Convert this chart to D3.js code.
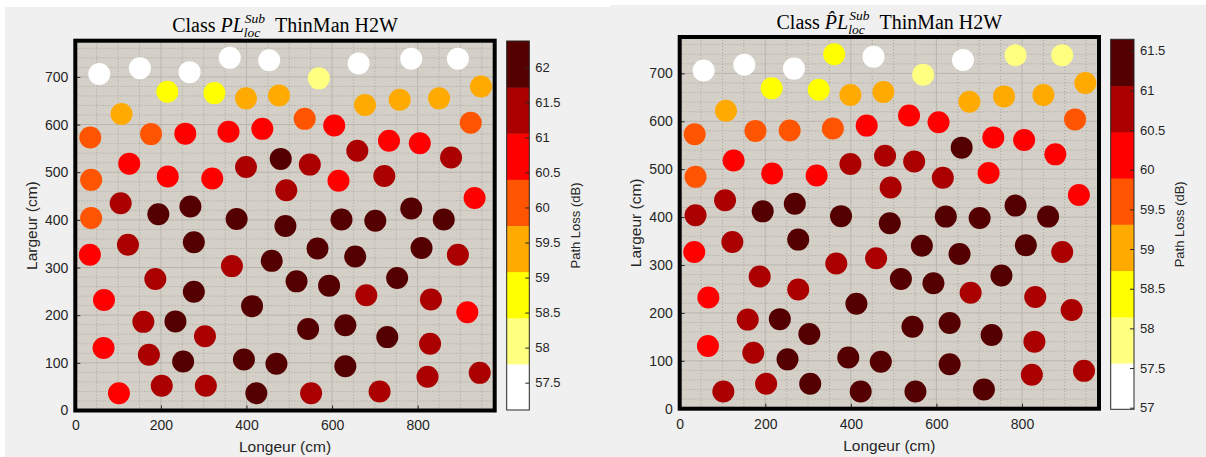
<!DOCTYPE html>
<html><head><meta charset="utf-8">
<script src="https://cdn.jsdelivr.net/npm/d3@7"></script>
<style>
html,body{margin:0;padding:0;background:#ffffff;}
svg{display:block;}
</style></head><body>
<svg id="chart" width="1206" height="457"></svg>
<script>
// ---------------- data ----------------
const xPositions = [56,151,267,361,453,569,662,785,894,215,325,399,476,677,758,850,948,108,536,924,
  35,177,257,358,437,605,733,805,659,878,480,548,399,126,216,320,615,722,37,493,
  933,106,194,269,37,377,491,622,701,785,861,34,123,277,366,459,566,654,809,894,
  187,277,517,593,752,680,831,67,413,916,159,234,303,544,631,729,829,66,172,252,
  394,470,631,823,945,102,202,305,423,551,711];
const yPositions = [706,718,710,740,735,697,728,738,738,669,666,655,661,641,652,655,680,622,612,604,
  573,580,581,585,591,598,566,561,545,531,528,516,511,518,491,487,482,492,484,462,
  446,435,412,428,404,402,387,401,398,424,401,327,348,353,303,314,340,323,341,327,
  276,249,271,262,278,242,233,232,219,206,186,187,156,171,179,154,140,131,117,103,
  107,98,93,71,79,36,52,52,36,36,40];
// Path loss, class PL_loc^Sub (dB)
const plValues = [57.35,57.42,57.30,57.55,57.48,58.05,57.40,57.11,57.20,58.70,58.80,59.40,59.35,59.55,59.45,59.30,59.50,59.60,60.10,60.20,
  59.95,60.05,60.70,60.80,60.65,60.90,60.75,60.55,61.35,61.50,61.85,61.45,61.30,60.85,60.60,60.70,60.95,61.25,60.15,61.40,
  60.50,61.55,62.10,61.95,60.25,62.00,61.90,62.05,62.15,61.80,62.00,60.80,61.60,62.20,61.50,62.05,62.25,62.10,61.95,61.45,
  61.55,62.00,62.30,62.37,62.15,61.40,61.35,60.75,62.20,60.85,61.50,62.05,61.65,62.25,62.10,62.00,61.30,60.70,61.45,62.15,
  62.30,62.20,61.95,61.40,61.25,60.90,61.60,61.55,62.10,61.60,61.35];
// Path loss, class PL^_loc^Sub (dB)
const plHatValues = [57.20,57.30,56.99,58.40,57.35,57.90,57.25,57.80,57.70,58.50,58.35,59.05,59.00,59.15,59.10,58.95,59.20,59.10,60.10,59.60,
  59.50,59.70,59.75,59.80,60.20,60.30,60.15,60.05,61.15,60.35,60.90,60.85,60.70,60.25,60.10,60.20,60.60,60.40,59.65,60.80,
  60.00,60.95,61.40,61.30,60.55,61.35,61.25,61.45,61.50,61.20,61.30,60.25,60.95,61.55,60.85,61.00,61.50,61.40,61.30,60.90,
  61.00,61.05,61.55,61.63,61.45,60.75,60.70,60.15,61.50,60.60,60.85,61.40,61.10,61.55,61.45,61.35,60.70,60.10,60.80,61.45,
  61.60,61.50,61.30,60.75,60.65,60.55,60.95,61.15,61.40,61.12,61.08];

const xTicks = [0,200,400,600,800];
const yTicks = [0,100,200,300,400,500,600,700];
const xMinorTicks = [50,100,150,250,300,350,450,500,550,650,700,750,850,900,950];
const yMinorTicks = [20,40,60,80,120,140,160,180,220,240,260,280,320,340,360,380,420,440,460,480,520,540,560,580,620,640,660,680,720,740,760];
const leftColorTicks = [57.5,58,58.5,59,59.5,60,60.5,61,61.5,62];
const rightColorTicks = [57,57.5,58,58.5,59,59.5,60,60.5,61,61.5];
const leftCLim = [57.11, 62.375];
const rightCLim = [56.98, 61.644];
const hotColors = ["#ffffff","#ffff80","#ffff00","#ffaa00","#ff5500","#ff0000","#aa0000","#550000"];
const xDomain = [0, 980];
const yDomain = [0, 776];

// ---------------- drawing ----------------
const svg = d3.select("#chart");
const sansFont = "'Liberation Sans', Arial, Helvetica, sans-serif";
const serifFont = "'Liberation Serif', 'Times New Roman', serif";
const textColor = "#262626";

// figure backgrounds
svg.append("rect").attr("x",5).attr("y",7).attr("width",605).attr("height",450).attr("fill","#f0f0f0");
svg.append("rect").attr("x",610).attr("y",5).attr("width",596).attr("height",452).attr("fill","#f0f0f0");

const panels = [
  {values: plValues, clim: leftCLim, cticks: leftColorTicks, hat: false,
   plot: {x0:75.3, x1:494.7, y0:40.7, y1:410.5},
   cbar: {x0:506.7, x1:529.3, y0:41, y1:410},
   titleY: 32, xLabelY: 451.7, yLabelX: 32, cLabelX: 575},
  {values: plHatValues, clim: rightCLim, cticks: rightColorTicks, hat: true,
   plot: {x0:679.7, x1:1099, y0:37, y1:408.7},
   cbar: {x0:1110.7, x1:1134, y0:39.3, y1:409.3},
   titleY: 29, xLabelY: 450.7, yLabelX: 636, cLabelX: 1179}
];

function measure(txt, size, italic) {
  const t = svg.append("text").style("font-family",serifFont).style("font-size",size+"px")
    .style("font-style", italic ? "italic" : "normal").text(txt);
  const w = t.node().getComputedTextLength();
  t.remove();
  return w;
}

panels.forEach((p, pi) => {
  const P = p.plot;
  const x = d3.scaleLinear().domain(xDomain).range([P.x0, P.x1]);
  const y = d3.scaleLinear().domain(yDomain).range([P.y1, P.y0]);
  const color = d3.scaleQuantize().domain(p.clim).range(hotColors);
  const g = svg.append("g");

  g.append("rect").attr("x",P.x0).attr("y",P.y0).attr("width",P.x1-P.x0).attr("height",P.y1-P.y0).attr("fill","#d4d0c8");

  // minor grid
  g.selectAll(".mx").data(xMinorTicks).join("line")
    .attr("x1",d=>x(d)).attr("x2",d=>x(d)).attr("y1",P.y0).attr("y2",P.y1)
    .attr("stroke","#a9a6a0").attr("stroke-width",1).attr("stroke-dasharray","1,2");
  g.selectAll(".my").data(yMinorTicks).join("line")
    .attr("y1",d=>y(d)).attr("y2",d=>y(d)).attr("x1",P.x0).attr("x2",P.x1)
    .attr("stroke","#a9a6a0").attr("stroke-width",1).attr("stroke-dasharray","1,2");
  // major grid
  g.selectAll(".gx").data(xTicks).join("line")
    .attr("x1",d=>x(d)).attr("x2",d=>x(d)).attr("y1",P.y0).attr("y2",P.y1)
    .attr("stroke","#b9b5ae").attr("stroke-width",1);
  g.selectAll(".gy").data(yTicks).join("line")
    .attr("y1",d=>y(d)).attr("y2",d=>y(d)).attr("x1",P.x0).attr("x2",P.x1)
    .attr("stroke","#b9b5ae").attr("stroke-width",1);

  // points
  g.selectAll("circle").data(p.values).join("circle")
    .attr("cx",(d,i)=>x(xPositions[i])).attr("cy",(d,i)=>y(yPositions[i]))
    .attr("r",11).attr("fill",d=>color(d));

  // axes
  const ax = g.append("g").attr("transform",`translate(0,${P.y1})`)
    .call(d3.axisBottom(x).tickValues(xTicks).tickFormat(d3.format("d")).tickSizeInner(-5).tickSizeOuter(0).tickPadding(10));
  const ay = g.append("g").attr("transform",`translate(${P.x0},0)`)
    .call(d3.axisLeft(y).tickValues(yTicks).tickFormat(d3.format("d")).tickSizeInner(-5).tickSizeOuter(0).tickPadding(7));
  [ax, ay].forEach(a => {
    a.select(".domain").remove();
    a.selectAll("line").attr("stroke",textColor);
    a.selectAll("text").attr("fill",textColor).style("font-family",sansFont).style("font-size","14px");
  });

  // box
  g.append("rect").attr("x",P.x0).attr("y",P.y0).attr("width",P.x1-P.x0).attr("height",P.y1-P.y0)
    .attr("fill","none").attr("stroke","#000").attr("stroke-width",4);

  // axis labels
  g.append("text").attr("x",(P.x0+P.x1)/2).attr("y",p.xLabelY).attr("text-anchor","middle")
    .style("font-family",sansFont).style("font-size","15.5px").attr("fill",textColor).text("Longeur (cm)");
  g.append("text").attr("transform",`translate(${p.yLabelX},${(P.y0+P.y1)/2}) rotate(-90)`)
    .attr("dy","0.35em").attr("text-anchor","middle")
    .style("font-family",sansFont).style("font-size","15.5px").attr("fill",textColor).text("Largeur (cm)");

  // colorbar
  const C = p.cbar;
  const cy = d3.scaleLinear().domain(p.clim).range([C.y1, C.y0]);
  const step = (p.clim[1]-p.clim[0]) / hotColors.length;
  const bands = hotColors.map((c,i)=>({c, lo: p.clim[0]+i*step, hi: p.clim[0]+(i+1)*step}));
  g.selectAll(".band").data(bands).join("rect")
    .attr("x",C.x0).attr("width",C.x1-C.x0)
    .attr("y",d=>cy(d.hi)).attr("height",d=>cy(d.lo)-cy(d.hi)+0.5)
    .attr("fill",d=>d.c);
  g.append("rect").attr("x",C.x0).attr("y",C.y0).attr("width",C.x1-C.x0).attr("height",C.y1-C.y0)
    .attr("fill","none").attr("stroke","#262626").attr("stroke-width",1);
  const ac = g.append("g").attr("transform",`translate(${C.x1},0)`)
    .call(d3.axisRight(cy).tickValues(p.cticks).tickFormat(d=>String(d)).tickSizeInner(-4).tickSizeOuter(0).tickPadding(6));
  ac.select(".domain").remove();
  ac.selectAll("line").attr("stroke",textColor);
  ac.selectAll("text").attr("fill",textColor).style("font-family",sansFont).style("font-size","13px");
  g.append("text").attr("transform",`translate(${p.cLabelX},${(C.y0+C.y1)/2}) rotate(-90)`)
    .attr("dy","0.35em").attr("text-anchor","middle")
    .style("font-family",sansFont).style("font-size","13px").attr("fill",textColor).text("Path Loss (dB)");

  // title: one text element built from positioned tspans
  const base = 20, small = 13.5;
  const mainSym = p.hat ? "P\u0302L" : "PL";
  const w1 = measure("Class\u00A0", base, false);
  const w2 = measure(mainSym, base, true);
  const w3 = measure("Sub", small, true);
  const w4 = measure("loc", small, true);
  const w5 = measure("\u00A0ThinMan\u00A0H2W", base, false);
  const xP = w1;
  const xS = xP + w2 + 1;
  const xT = xS + Math.max(w3, w4) + 5;
  const total = xT + w5;
  const x0 = (P.x0 + P.x1)/2 - total/2;
  const tt = g.append("text").attr("transform",`translate(${x0},${p.titleY})`)
    .style("font-family",serifFont).style("font-size",base+"px").attr("fill","#000");
  tt.append("tspan").attr("x",0).attr("y",0).text("Class\u00A0");
  tt.append("tspan").attr("x",xP).attr("y",0).style("font-style","italic").text(mainSym);
  tt.append("tspan").attr("x",xS).attr("y",-9).style("font-style","italic").style("font-size",small+"px").text("Sub");
  tt.append("tspan").attr("x",xS-1).attr("y",5).style("font-style","italic").style("font-size",small+"px").text("loc");
  tt.append("tspan").attr("x",xT).attr("y",0).text("\u00A0ThinMan\u00A0H2W");
});
</script>
</body></html>
